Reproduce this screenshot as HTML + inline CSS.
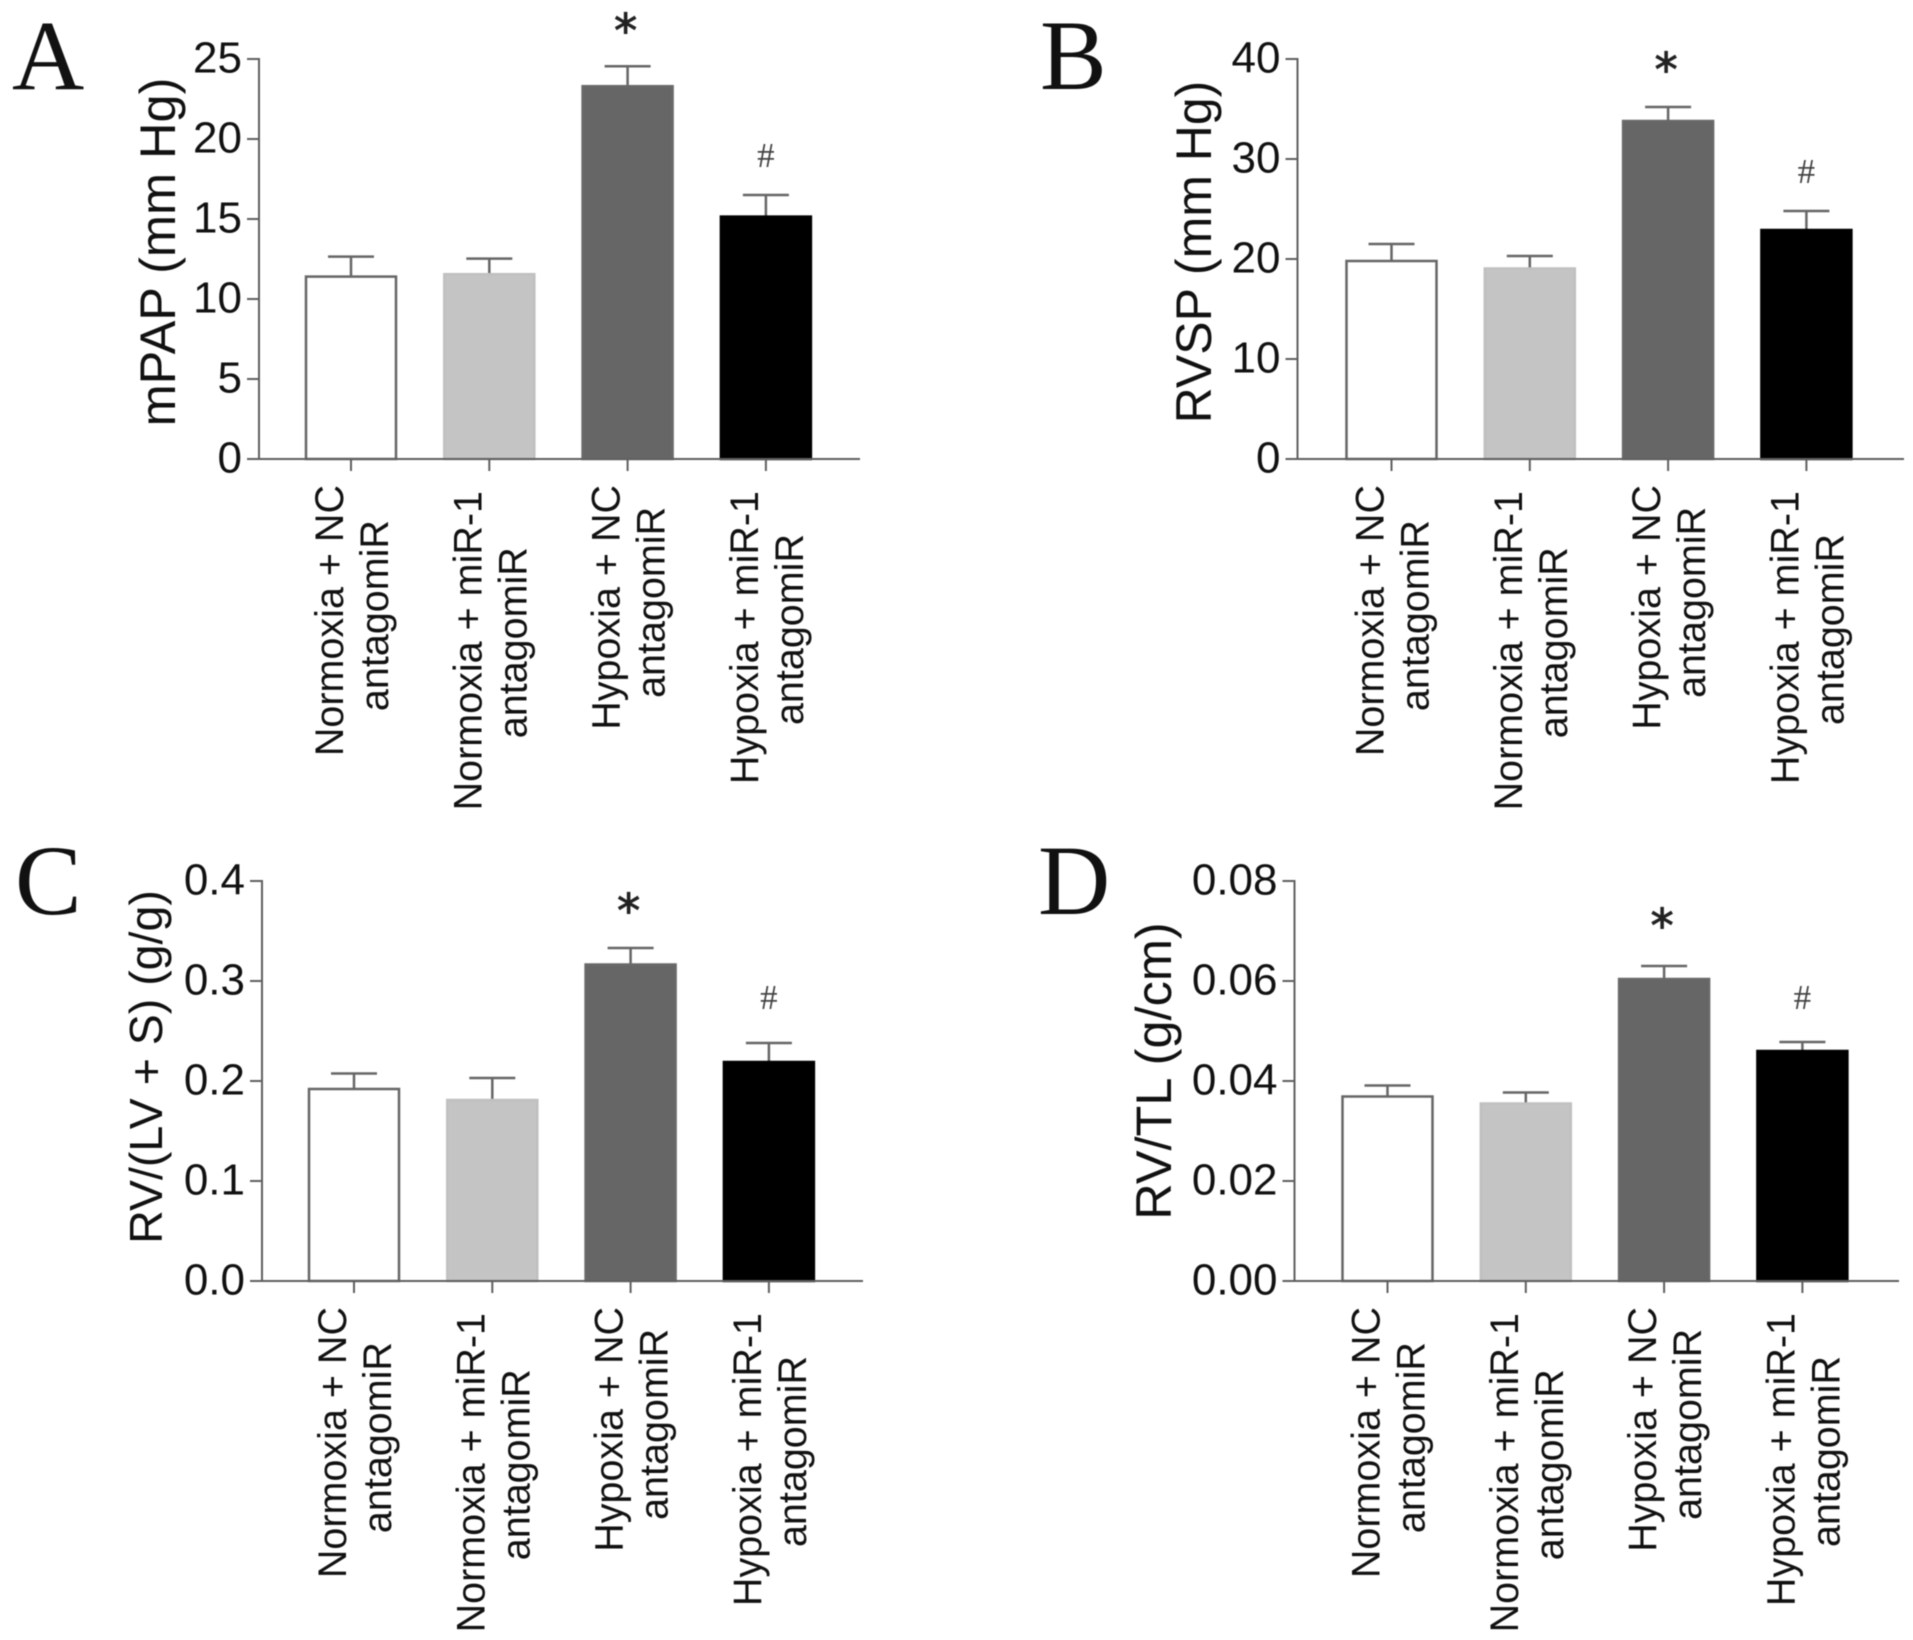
<!DOCTYPE html>
<html lang="en">
<head>
<meta charset="utf-8">
<title>mPAP, RVSP, RV/(LV + S) and RV/TL bar charts</title>
<style>
  html, body { margin: 0; padding: 0; background: #fff; }
  #figure { display: block; width: 1913px; height: 1640px; background: #fff; filter: blur(0.5px); }
  text { font-family: "Liberation Sans", Arial, sans-serif; fill: #111; }
  .letter { font-family: "Liberation Serif", "Times New Roman", serif; font-size: 100px; fill: #111; }
  .tick-label { font-size: 44px; text-anchor: end; }
  .cat-label { font-size: 39.5px; }
  .hash { font-family: "Liberation Serif", serif; font-size: 35px; text-anchor: middle; fill: #444; }
  .star { font-family: "DejaVu Sans", sans-serif; font-size: 46px; text-anchor: middle; fill: #222; stroke: #222; stroke-width: 1; }
</style>
</head>
<body>
<svg id="figure" xmlns="http://www.w3.org/2000/svg" width="1913" height="1640" viewBox="0 0 1913 1640"></svg>
<script>
// ---- Data ----
const categoryLine1 = ['Normoxia + NC', 'Normoxia + miR-1', 'Hypoxia + NC', 'Hypoxia + miR-1'];
const categoryLine2 = ['antagomiR', 'antagomiR', 'antagomiR', 'antagomiR'];

const panelAValues = [11.4, 11.55, 23.3, 15.15];
const panelAErrors = [1.25, 0.97, 1.25, 1.35];
const panelATicks = ['0', '5', '10', '15', '20', '25'];

const panelBValues = [19.8, 19.05, 33.8, 22.9];
const panelBErrors = [1.7, 1.25, 1.4, 1.9];
const panelBTicks = ['0', '10', '20', '30', '40'];

const panelCValues = [0.192, 0.181, 0.3165, 0.219];
const panelCErrors = [0.0155, 0.022, 0.0165, 0.019];
const panelCTicks = ['0.0', '0.1', '0.2', '0.3', '0.4'];

const panelDValues = [0.0369, 0.0355, 0.0604, 0.046];
const panelDErrors = [0.0022, 0.0022, 0.0026, 0.0018];
const panelDTicks = ['0.00', '0.02', '0.04', '0.06', '0.08'];

// ---- Layout ----
const barFills = ['#ffffff', '#c4c4c4', '#666666', '#000000'];
const barStrokes = ['#666666', '#c0c0c0', '#696969', '#000000'];
const barKeys = ['normoxia-nc', 'normoxia-mir1', 'hypoxia-nc', 'hypoxia-mir1'];
const axisColor = '#5f5f5f';

const panels = [
  { key: 'a', letter: 'A', letterX: 12, letterY: 89, title: 'mPAP (mm Hg)', titleSize: 50.5, titleX: 175, titleY: 252,
    values: panelAValues, errors: panelAErrors, ticks: panelATicks,
    axisX: 259, axisEnd: 860, baseY: 459, topY: 59, firstBar: 351, barStep: 138.3, barWidth: 90, starGap: 43, hashGap: 40 },
  { key: 'b', letter: 'B', letterX: 1040, letterY: 89, title: 'RVSP (mm Hg)', titleSize: 50, titleX: 1211, titleY: 252,
    values: panelBValues, errors: panelBErrors, ticks: panelBTicks,
    axisX: 1297.5, axisEnd: 1904, baseY: 459, topY: 59, firstBar: 1391.5, barStep: 138.3, barWidth: 90, starGap: 45, hashGap: 40 },
  { key: 'c', letter: 'C', letterX: 15, letterY: 914, title: 'RV/(LV + S) (g/g)', titleSize: 46.5, titleX: 162, titleY: 1067,
    values: panelCValues, errors: panelCErrors, ticks: panelCTicks,
    axisX: 262, axisEnd: 863, baseY: 1281, topY: 881, firstBar: 354, barStep: 138.3, barWidth: 90, starGap: 45, hashGap: 46 },
  { key: 'd', letter: 'D', letterX: 1038, letterY: 914, title: 'RV/TL (g/cm)', titleSize: 50.5, titleX: 1171, titleY: 1071,
    values: panelDValues, errors: panelDErrors, ticks: panelDTicks,
    axisX: 1294.5, axisEnd: 1899, baseY: 1281, topY: 881, firstBar: 1387.5, barStep: 138.3, barWidth: 90, starGap: 48, hashGap: 45 }
];

const NS = 'http://www.w3.org/2000/svg';
const root = document.getElementById('figure');

function make(parent, tag, props, content) {
  const node = document.createElementNS(NS, tag);
  for (const k in props) node.setAttribute(k, props[k]);
  if (content !== undefined) node.textContent = content;
  parent.appendChild(node);
  return node;
}

panels.forEach(function (p) {
  const yMax = Number(p.ticks[p.ticks.length - 1]);
  const yScale = function (v) { return p.baseY - (v / yMax) * (p.baseY - p.topY); };
  const xScale = function (i) { return p.firstBar + i * p.barStep; };

  const group = make(root, 'g', {});
  
  

  const letter = make(group, 'text', { class: 'letter', x: p.letterX, y: p.letterY }, p.letter);
  
  

  const title = make(group, 'text', {
    x: 0, y: 0, 'text-anchor': 'middle', 'font-size': p.titleSize,
    transform: 'translate(' + p.titleX + ',' + p.titleY + ') rotate(-90)'
  }, p.title);
  
  

  // Bars and error bars
  p.values.forEach(function (value, i) {
    const cx = xScale(i);
    const errTop = yScale(value + p.errors[i]);
    const barTop = yScale(value);

    const errStem = make(group, 'line', { x1: cx, x2: cx, y1: errTop, y2: barTop, stroke: '#666', 'stroke-width': 2.5 });
    
    

    const errCap = make(group, 'line', { x1: cx - 23, x2: cx + 23, y1: errTop, y2: errTop, stroke: '#666', 'stroke-width': 2.5 });
    
    

    const bar = make(group, 'rect', {
      x: cx - p.barWidth / 2, y: barTop, width: p.barWidth, height: p.baseY - barTop,
      fill: barFills[i], stroke: barStrokes[i], 'stroke-width': 2.5
    });
    
    

    const tick = make(group, 'line', { x1: cx, x2: cx, y1: p.baseY, y2: p.baseY + 12, stroke: axisColor, 'stroke-width': 2 });
    
    

    // Two-line rotated category label
    const isEvenColumn = i % 2 === 1;
    const top = p.baseY + 26 + (isEvenColumn ? 6 : 0);
    const line1 = make(group, 'text', {
      class: 'cat-label', 'text-anchor': 'end',
      transform: 'translate(' + (cx - 8) + ',' + top + ') rotate(-90)'
    }, categoryLine1[i]);
    
    

    const line1Center = top + line1.getComputedTextLength() / 2;
    const line2 = make(group, 'text', {
      class: 'cat-label', 'text-anchor': 'middle',
      transform: 'translate(' + (cx + 37) + ',' + (line1Center - (isEvenColumn ? 8 : 5)) + ') rotate(-90)'
    }, categoryLine2[i]);
    
    
  });

  // Significance markers
  const starIdx = 2;
  const star = make(group, 'text', {
    class: 'star', x: xScale(starIdx) - 2,
    y: yScale(p.values[starIdx] + p.errors[starIdx]) - p.starGap + 24
  }, '*');
  
  

  const hashIdx = 3;
  const hash = make(group, 'text', {
    class: 'hash', x: xScale(hashIdx),
    y: yScale(p.values[hashIdx] + p.errors[hashIdx]) - p.hashGap + 12
  }, '#');
  
  

  // Axes
  const yAxis = make(group, 'line', { x1: p.axisX, x2: p.axisX, y1: p.topY - 1, y2: p.baseY + 1, stroke: axisColor, 'stroke-width': 2 });
  
  

  const xAxis = make(group, 'line', { x1: p.axisX - 12, x2: p.axisEnd, y1: p.baseY, y2: p.baseY, stroke: axisColor, 'stroke-width': 2 });
  
  

  p.ticks.forEach(function (label) {
    const y = yScale(Number(label));
    const yTick = make(group, 'line', { x1: p.axisX - 12, x2: p.axisX, y1: y, y2: y, stroke: axisColor, 'stroke-width': 2 });
    
    

    const yLabel = make(group, 'text', { class: 'tick-label', x: p.axisX - 17, y: y + 13.5 }, label);
    
    
  });
});
</script>
</body>
</html>
